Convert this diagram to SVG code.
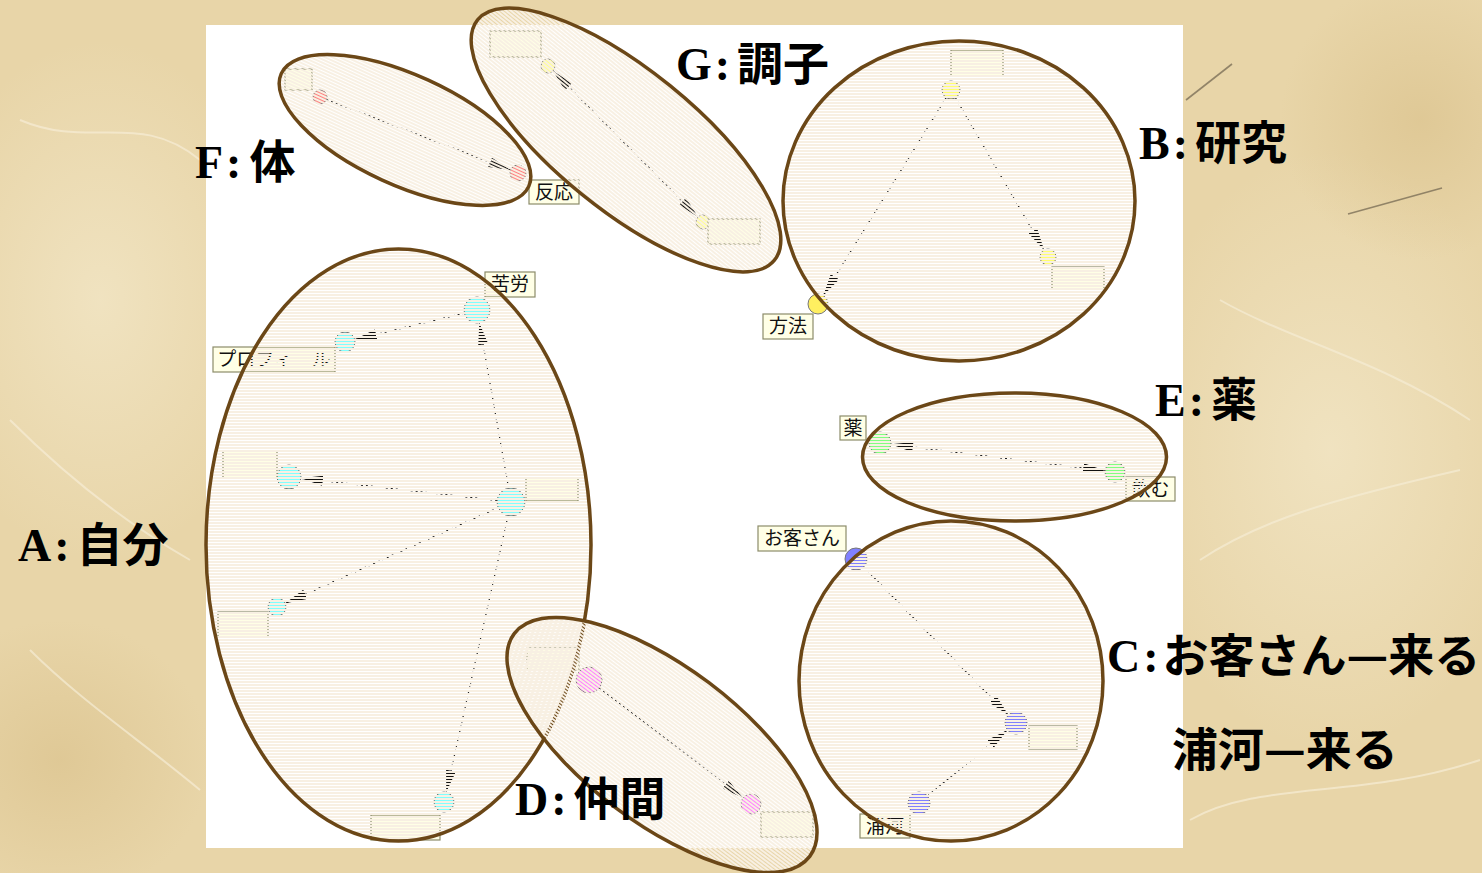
<svg xmlns="http://www.w3.org/2000/svg" width="1482" height="873" viewBox="0 0 1482 873">
<defs>
<pattern id="stripe" patternUnits="userSpaceOnUse" width="8" height="3"><rect x="0" y="0" width="8" height="2" fill="#f8f0e3"/></pattern>
<radialGradient id="bgA" cx="0.5" cy="0.5" r="0.5"><stop offset="0" stop-color="#f2e6c6" stop-opacity="0.8"/><stop offset="1" stop-color="#f2e6c6" stop-opacity="0"/></radialGradient>
<radialGradient id="bgB" cx="0.5" cy="0.5" r="0.5"><stop offset="0" stop-color="#d9c08a" stop-opacity="0.6"/><stop offset="1" stop-color="#d9c08a" stop-opacity="0"/></radialGradient>
<marker id="arr" markerUnits="userSpaceOnUse" markerWidth="24" markerHeight="12" refX="22" refY="5" orient="auto"><path d="M0,0 L22,5 L0,10 z" fill="#111"/></marker>
<marker id="arrS" markerUnits="userSpaceOnUse" markerWidth="24" markerHeight="12" refX="0" refY="5" orient="auto"><path d="M22,0 L0,5 L22,10 z" fill="#111"/></marker>
</defs>
<style>
.edge{fill:none;stroke:#222;stroke-width:1.2;stroke-dasharray:2 3}
.lbl{fill:#ffffe6;stroke:#8c8c6a;stroke-width:1.2}
.lt{font-family:"Noto Sans CJK JP","Noto Sans CJK SC",sans-serif;font-size:19px;fill:#111;text-anchor:middle}
.nd{stroke:#777;stroke-width:1}
.ell{fill:url(#stripe);stroke:#6b4717;stroke-width:3.5}
.ell2{fill:url(#stripe)}
.ells{fill:none;stroke:#6b4717;stroke-width:3.5}
.big{font-family:"Noto Sans CJK JP","Noto Sans CJK SC",sans-serif;font-size:46px;font-weight:700;fill:#000}
.lat{font-family:"Liberation Serif","Times New Roman",serif;font-weight:700}
</style>
<!-- parchment background -->
<rect x="0" y="0" width="1482" height="873" fill="#e8d5a8"/>
<ellipse cx="100" cy="300" rx="180" ry="260" fill="url(#bgA)"/>
<ellipse cx="1330" cy="450" rx="200" ry="300" fill="url(#bgA)"/>
<ellipse cx="60" cy="760" rx="150" ry="140" fill="url(#bgB)"/>
<ellipse cx="1420" cy="120" rx="140" ry="140" fill="url(#bgB)"/>
<g fill="none" stroke="#f6edd5" stroke-width="2" opacity="0.7">
<path d="M10,420 C60,470 120,520 190,560"/>
<path d="M30,650 C80,700 140,740 200,790"/>
<path d="M1200,560 C1260,520 1330,500 1460,470"/>
<path d="M1220,300 C1290,340 1380,360 1470,420"/>
<path d="M1190,820 C1260,780 1360,800 1480,760"/>
<path d="M20,120 C90,150 140,110 200,160"/>
</g>
<g fill="none" stroke="#7c6f58" stroke-width="1.6" opacity="0.8">
<path d="M1186,100 L1232,64"/>
<path d="M1348,214 L1442,188"/>
</g>
<!-- white panel -->
<rect x="206" y="25" width="977" height="823" fill="#ffffff"/>

<!-- connectors -->
<g id="connectors">
<line class="edge" x1="326.5" y1="99.5" x2="510.5" y2="170.1" marker-end="url(#arr)"/>
<line class="edge" x1="553" y1="71" x2="698" y2="217" marker-start="url(#arrS)" marker-end="url(#arr)"/>
<line class="edge" x1="946.2" y1="97.6" x2="823.3" y2="295.5" marker-end="url(#arr)"/>
<line class="edge" x1="955.5" y1="97.8" x2="1044" y2="250.1" marker-end="url(#arr)"/>
<line class="edge" x1="464.4" y1="313.1" x2="354.7" y2="339.6" marker-end="url(#arr)"/>
<line class="edge" x1="508.6" y1="488.2" x2="479.3" y2="322.8" marker-end="url(#arr)"/>
<line class="edge" x1="497.1" y1="500.4" x2="300.9" y2="478.3" marker-end="url(#arr)"/>
<line class="edge" x1="498.2" y1="507.7" x2="285.2" y2="603.3" marker-end="url(#arr)"/>
<line class="edge" x1="508" y1="515.7" x2="446.2" y2="792.2" marker-end="url(#arr)"/>
<line class="edge" x1="599.3" y1="687.9" x2="743.1" y2="797.9" marker-end="url(#arr)"/>
<line class="edge" x1="890.9" y1="444.3" x2="1105.1" y2="470.8" marker-start="url(#arrS)" marker-end="url(#arr)"/>
<line class="edge" x1="863.7" y1="566.9" x2="1008.3" y2="715.1" marker-end="url(#arr)"/>
<line class="edge" x1="927.5" y1="796" x2="1007.5" y2="730" marker-end="url(#arr)"/>
</g>

<!-- nodes -->
<g id="n-f1"><circle class="nd" cx="320" cy="97" r="7" fill="#ff8080"/><rect class="lbl" x="285" y="69" width="27" height="21"/></g>
<g id="n-f2"><circle class="nd" cx="518" cy="173" r="8" fill="#ff8080"/><rect class="lbl" x="529" y="180" width="50" height="24"/><text class="lt" x="554" y="199">反応</text></g>
<g id="n-g1"><circle class="nd" cx="548" cy="66" r="7" fill="#ffff90"/><rect class="lbl" x="490" y="31" width="51" height="26"/></g>
<g id="n-g2"><circle class="nd" cx="703" cy="222" r="7" fill="#ffff90"/><rect class="lbl" x="708" y="219" width="52" height="25"/></g>
<g id="n-b1"><circle class="nd" cx="951" cy="90" r="9" fill="#ffff70"/><rect class="lbl" x="951" y="50" width="52" height="26"/></g>
<g id="n-b2"><circle class="nd" cx="1048" cy="257" r="8" fill="#ffff70"/><rect class="lbl" x="1052" y="267" width="52" height="22"/></g>
<g id="n-b3"><circle class="nd" cx="818" cy="304" r="10" fill="#ffef60"/><rect class="lbl" x="763" y="314" width="50" height="25"/><text class="lt" x="788" y="333">方法</text></g>
<g id="n-a1"><circle class="nd" cx="477" cy="310" r="13" fill="#80ffff"/><rect class="lbl" x="485" y="272" width="50" height="25"/><text class="lt" x="510" y="291">苦労</text></g>
<g id="n-a2"><circle class="nd" cx="345" cy="342" r="10" fill="#80ffff"/><rect class="lbl" x="213" y="347" width="122" height="25"/><text class="lt" x="274" y="366">プロフィール</text></g>
<g id="n-a3"><circle class="nd" cx="511" cy="502" r="14" fill="#80ffff"/><rect class="lbl" x="526" y="478" width="52" height="23"/></g>
<g id="n-a4"><circle class="nd" cx="289" cy="477" r="12" fill="#80ffff"/><rect class="lbl" x="223" y="451" width="54" height="27"/></g>
<g id="n-a5"><circle class="nd" cx="277" cy="607" r="9" fill="#80ffff"/><rect class="lbl" x="218" y="612" width="50" height="25"/></g>
<g id="n-a6"><circle class="nd" cx="444" cy="802" r="10" fill="#80ffff"/><rect class="lbl" x="371" y="815" width="69" height="25"/></g>
<g id="n-d1"><circle class="nd" cx="589" cy="680" r="13" fill="#ff80ff"/><rect class="lbl" x="527" y="648" width="52" height="22"/></g>
<g id="n-d2"><circle class="nd" cx="751" cy="804" r="10" fill="#ff80ff"/><rect class="lbl" x="761" y="812" width="52" height="25"/></g>
<g id="n-e1"><circle class="nd" cx="880" cy="443" r="11" fill="#80ff80"/><rect class="lbl" x="840" y="416" width="26" height="24"/><text class="lt" x="853" y="435">薬</text></g>
<g id="n-e2"><circle class="nd" cx="1115" cy="472" r="10" fill="#80ff80"/><rect class="lbl" x="1126" y="477" width="49" height="24"/><text class="lt" x="1150.5" y="496">飲む</text></g>
<g id="n-c1"><circle class="nd" cx="856" cy="559" r="11" fill="#8080ff"/><rect class="lbl" x="758" y="526" width="88" height="25"/><text class="lt" x="802" y="545">お客さん</text></g>
<g id="n-c2"><circle class="nd" cx="1016" cy="723" r="11" fill="#8080ff"/><rect class="lbl" x="1029" y="726" width="48" height="23"/></g>
<g id="n-c3"><circle class="nd" cx="919" cy="803" r="11" fill="#8080ff"/><rect class="lbl" x="860" y="814" width="50" height="24"/><text class="lt" x="885" y="833">浦河</text></g>

<!-- group ellipses -->
<g id="grp-A"><ellipse class="ell" cx="398.5" cy="545" rx="192.5" ry="296"/></g>
<g id="grp-D"><ellipse class="ell" cx="662" cy="745" rx="185" ry="78" transform="rotate(37 662 745)"/></g>
<g id="grp-FG">
<ellipse class="ell2" cx="626" cy="140" rx="191" ry="70" transform="rotate(39 626 140)"/>
<ellipse class="ell2" cx="405" cy="130" rx="136" ry="55" transform="rotate(24.5 405 130)"/>
<ellipse class="ells" cx="626" cy="140" rx="191" ry="70" transform="rotate(39 626 140)"/>
<ellipse class="ells" cx="405" cy="130" rx="136" ry="55" transform="rotate(24.5 405 130)"/>
</g>
<g id="grp-B"><ellipse class="ell" cx="959" cy="201" rx="176" ry="160"/></g>
<g id="grp-E"><ellipse class="ell" cx="1014.5" cy="457" rx="152" ry="64"/></g>
<g id="grp-C"><ellipse class="ell" cx="951" cy="681" rx="152" ry="160"/></g>

<!-- group captions -->
<text class="big" x="195" y="178"><tspan class="lat">F</tspan><tspan class="lat" dx="3">:</tspan><tspan dx="8">体</tspan></text>
<text class="big" x="676" y="80"><tspan class="lat">G</tspan><tspan class="lat" dx="3">:</tspan><tspan dx="7">調子</tspan></text>
<text class="big" x="1139" y="159"><tspan class="lat">B</tspan><tspan class="lat" dx="3">:</tspan><tspan dx="7">研究</tspan></text>
<text class="big" x="1155" y="416"><tspan class="lat">E</tspan><tspan class="lat" dx="3">:</tspan><tspan dx="7">薬</tspan></text>
<text class="big" x="18" y="561"><tspan class="lat">A</tspan><tspan class="lat" dx="3">:</tspan><tspan dx="7">自分</tspan></text>
<text class="big" x="515" y="815"><tspan class="lat">D</tspan><tspan class="lat" dx="3">:</tspan><tspan dx="7">仲間</tspan></text>
<text class="big" x="1107" y="672"><tspan class="lat">C</tspan><tspan class="lat" dx="3">:</tspan><tspan dx="4">お客さん—来る</tspan></text>
<text class="big" x="1172" y="766">浦河—来る</text>
</svg>
